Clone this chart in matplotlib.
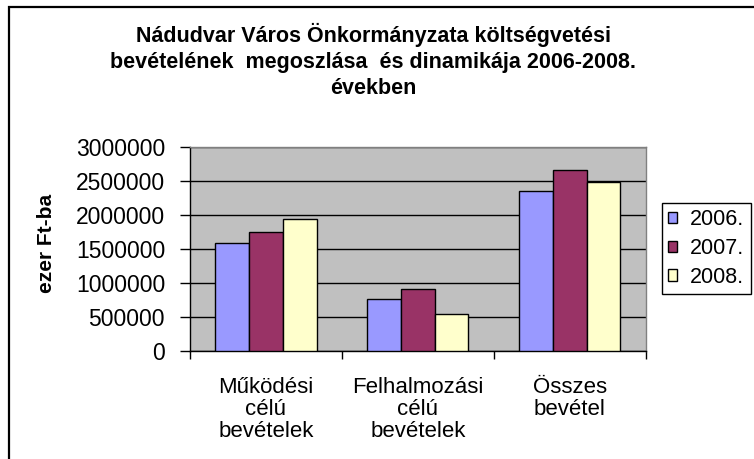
import matplotlib
matplotlib.use("Agg")
import matplotlib.pyplot as plt
import numpy as np
from matplotlib.patches import Rectangle

plt.rcParams['font.family'] = ['Liberation Sans', 'DejaVu Sans']

categories = ["Működési\ncélú\nbevételek", "Felhalmozási\ncélú\nbevételek", "Összes\nbevétel"]
series_names = ["2006.", "2007.", "2008."]
values_2006 = [1590000, 758000, 2352000]
values_2007 = [1742000, 908000, 2652000]
values_2008 = [1937000, 545000, 2484000]
yticks = [0, 500000, 1000000, 1500000, 2000000, 2500000, 3000000]
title = "Nádudvar Város Önkormányzata költségvetési\nbevételének  megoszlása  és dinamikája 2006-2008.\névekben"
ylabel = "ezer Ft-ba"
colors = ["#9999FF", "#993366", "#FFFFCC"]

W, H = 754, 459
fig = plt.figure(figsize=(W / 100, H / 100), dpi=100)
fig.patch.set_facecolor("white")

# outer chart frame (cropped at right and bottom)
fig.patches.append(Rectangle((9 / W, -0.05), 1.2, 1 - 7 / H + 0.05, transform=fig.transFigure,
                             fill=False, edgecolor="black", linewidth=1.6, zorder=0))

left, right, top, bottom = 190 / W, 645.7 / W, 1 - 146.7 / H, 1 - 350.7 / H
ax = fig.add_axes([left, bottom, right - left, top - bottom])
ax.set_facecolor("#C0C0C0")

x = np.arange(len(categories))
bw = 0.222
for i, (vals, c, name) in enumerate(zip([values_2006, values_2007, values_2008], colors, series_names)):
    ax.bar(x + (i - 1) * bw, vals, width=bw, color=c, edgecolor="black", linewidth=1.0,
           label=name, zorder=3)

ax.set_xlim(-0.5, len(categories) - 0.5)
ax.set_ylim(0, 3000000)
ax.set_yticks(yticks)
ax.set_yticklabels([str(v) for v in yticks], fontsize=16.5)
ax.yaxis.grid(True, color="black", linewidth=1.0, zorder=1)
ax.set_axisbelow(True)
ax.tick_params(axis="y", direction="out", length=7, width=1, pad=11, color="black")

ax.set_xticks(x)
ax.set_xticklabels(categories, fontsize=16, linespacing=1.05)
ax.set_xticks(np.arange(-0.5, len(categories), 1.0), minor=True)
ax.tick_params(axis="x", which="major", length=0, pad=19)
ax.tick_params(axis="x", which="minor", direction="out", length=6, width=1, color="black")

for s in ["top", "right"]:
    ax.spines[s].set_color("#808080")
    ax.spines[s].set_linewidth(1.0)
for s in ["left", "bottom"]:
    ax.spines[s].set_color("black")
    ax.spines[s].set_linewidth(1.0)

fig.text(373 / W, 1 - 61 / H, title, ha="center", va="center", fontsize=15.5,
         fontweight="bold", linespacing=1.32, multialignment="center")

fig.text(47 / W, 1 - 243 / H, ylabel, ha="center", va="center", rotation=90,
         fontsize=15, fontweight="bold")

leg = ax.legend(loc="upper left", bbox_to_anchor=(661.7 / W, 1 - 202.7 / H),
                bbox_transform=fig.transFigure, borderaxespad=0, fontsize=15.5,
                handlelength=0.43, handleheight=0.43, handletextpad=0.6,
                borderpad=0.3, labelspacing=0.36, fancybox=False, framealpha=1,
                edgecolor="black")
leg.get_frame().set_linewidth(1.0)

fig.savefig("out.png", dpi=100)
